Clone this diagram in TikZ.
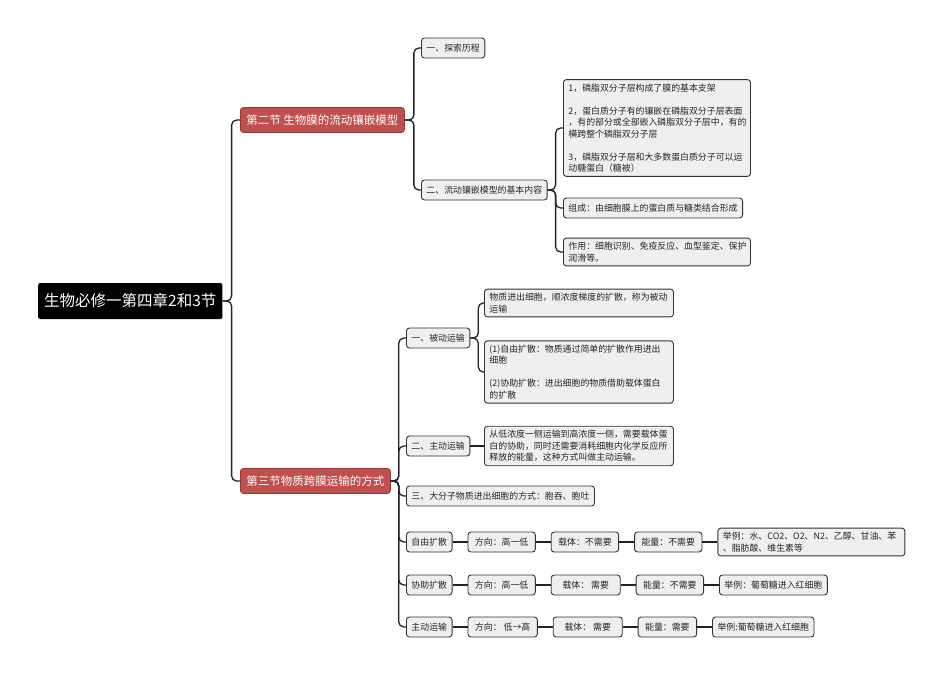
\documentclass[tikz,border=0pt]{standalone}
\usepackage{fontspec}
\setmainfont{Noto Sans CJK SC}
\usetikzlibrary{positioning}
\definecolor{secred}{HTML}{C0504D}
\definecolor{secedge}{HTML}{9A3A38}
\definecolor{leafgray}{HTML}{EFEFEF}
\definecolor{linkdark}{HTML}{222222}

\begin{document}
\begin{tikzpicture}[
  x=1pt, y=-1pt,
  node distance=15pt,
  rootbox/.style={fill=black, text=white, rounded corners=2pt, font=\fontsize{15.5}{19}\selectfont,
                  minimum height=36pt, inner xsep=6pt, anchor=west},
  secbox/.style={fill=secred, draw=secedge, line width=0.8pt, text=white, rounded corners=3pt,
                 font=\fontsize{11.5}{14}\selectfont, minimum height=25pt, inner xsep=6pt, anchor=west},
  leaf/.style={fill=leafgray, draw=black!80, line width=0.9pt, rounded corners=3pt, text=black!85,
               font=\fontsize{8.9}{11.5}\selectfont, minimum height=20pt, inner xsep=5pt, inner ysep=4pt, align=left},
  rowitem/.style={leaf, inner xsep=7pt},
  link/.style={draw=linkdark, line width=1.3pt, rounded corners=5pt},
]
\useasboundingbox (0,0) rectangle (946,675);

% Root and sections
\node[rootbox] (root) at (38,301) {生物必修一第四章2和3节};
\node[secbox] (s1) at (240,120) {第二节 生物膜的流动镶嵌模型};
\node[secbox] (s2) at (240,481) {第三节物质跨膜运输的方式};
\draw[link] (root.east) -- ++(9,0) |- (s1.west);
\draw[link] (root.east) -- ++(9,0) |- (s2.west);

% Section 2 (fluid mosaic model)
\node[leaf, anchor=west] (a1) at (421,48) {一、探索历程};
\node[leaf, anchor=west] (a2) at (421,190) {二、流动镶嵌模型的基本内容};
\draw[link] (s1.east) -- ++(9,0) |- (a1.west);
\draw[link] (s1.east) -- ++(9,0) |- (a2.west);

\node[leaf, anchor=west, text width=177pt] (a21) at (563,128)
  {1，磷脂双分子层构成了膜的基本支架\\[11.5pt]
   2，蛋白质分子有的镶嵌在磷脂双分子层表面\\
   ，有的部分或全部嵌入磷脂双分子层中，有的\\
   横跨整个磷脂双分子层\\[11.5pt]
   3，磷脂双分子层和大多数蛋白质分子可以运\\
   动糖蛋白（糖被）};
\node[leaf, anchor=west] (a22) at (563,208) {组成：由细胞膜上的蛋白质与糖类结合形成};
\node[leaf, anchor=west, text width=177pt] (a23) at (563,252)
  {作用：细胞识别、免疫反应、血型鉴定、保护\\润滑等。};
\draw[link] (a2.east) -- ++(8,0) |- (a21.west);
\draw[link] (a2.east) -- ++(8,0) |- (a22.west);
\draw[link] (a2.east) -- ++(8,0) |- (a23.west);

% Section 3 (transport across membranes)
\node[leaf, anchor=west] (b1) at (406,338) {一、被动运输};
\node[leaf, anchor=west] (b2) at (406,446) {二、主动运输};
\node[leaf, anchor=west] (b3) at (406,496) {三、大分子物质进出细胞的方式：胞吞、胞吐};
\node[leaf, anchor=west] (r1) at (406,542) {自由扩散};
\node[leaf, anchor=west] (r2) at (406,585) {协助扩散};
\node[leaf, anchor=west] (r3) at (406,627) {主动运输};
\foreach \n in {b1,b2,b3,r1,r2,r3}
  \draw[link] (s2.east) -- ++(8,0) |- (\n.west);

\node[leaf, anchor=west, text width=179pt] (b11) at (484,303)
  {物质进出细胞，顺浓度梯度的扩散，称为被动\\运输};
\node[leaf, anchor=west, text width=179pt] (b12) at (484,372)
  {(1)自由扩散：物质通过简单的扩散作用进出\\细胞\\[11.5pt]
   (2)协助扩散：进出细胞的物质借助载体蛋白\\的扩散};
\draw[link] (b1.east) -- ++(8,0) |- (b11.west);
\draw[link] (b1.east) -- ++(8,0) |- (b12.west);

\node[leaf, anchor=west, text width=179pt] (b21) at (484,446)
  {从低浓度一侧运输到高浓度一侧，需要载体蛋\\白的协助，同时还需要消耗细胞内化学反应所\\释放的能量，这种方式叫做主动运输。};
\draw[link] (b2.east) -- (b21.west);

% Comparison rows
\node[rowitem, right=of r1] (r1d) {方向：高一低};
\node[rowitem, right=of r1d] (r1c) {载体：不需要};
\node[rowitem, right=of r1c] (r1e) {能量：不需要};
\node[leaf, right=of r1e, text width=177pt] (r1x)
  {举例：水、CO2、O2、N2、乙醇、甘油、苯\\、脂肪酸、维生素等};
\draw[link] (r1) -- (r1d);
\draw[link] (r1d) -- (r1c);
\draw[link] (r1c) -- (r1e);
\draw[link] (r1e) -- (r1x);

\node[rowitem, right=of r2] (r2d) {方向：高一低};
\node[rowitem, right=of r2d, minimum width=69pt] (r2c) {载体： 需要};
\node[rowitem, right=of r2c] (r2e) {能量：不需要};
\node[leaf, right=of r2e] (r2x) {举例：葡萄糖进入红细胞};
\draw[link] (r2) -- (r2d);
\draw[link] (r2d) -- (r2c);
\draw[link] (r2c) -- (r2e);
\draw[link] (r2e) -- (r2x);

\node[rowitem, right=of r3, minimum width=69pt] (r3d) {方向： 低→高};
\node[rowitem, right=of r3d, minimum width=69pt] (r3c) {载体： 需要};
\node[rowitem, right=of r3c] (r3e) {能量：需要};
\node[leaf, right=of r3e] (r3x) {举例:葡萄糖进入红细胞};
\draw[link] (r3) -- (r3d);
\draw[link] (r3d) -- (r3c);
\draw[link] (r3c) -- (r3e);
\draw[link] (r3e) -- (r3x);
\end{tikzpicture}
\end{document}
